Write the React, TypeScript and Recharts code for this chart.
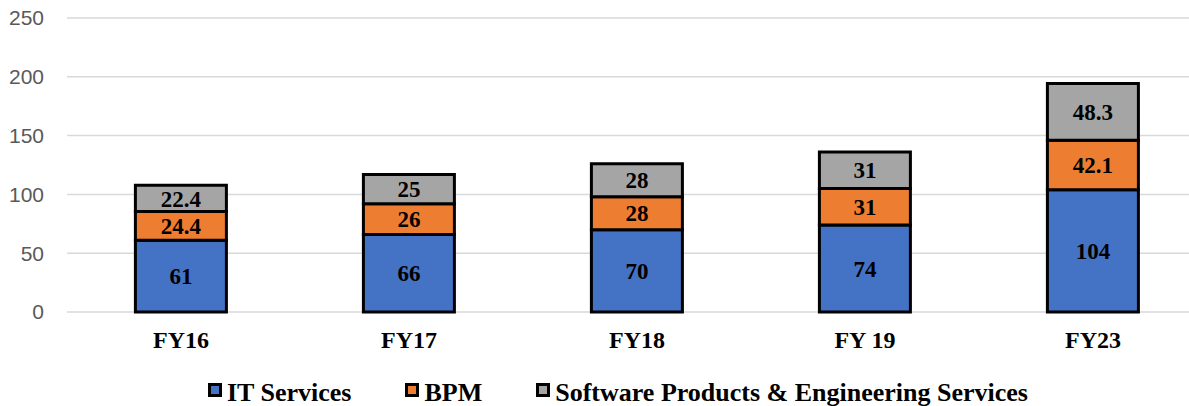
import { BarChart, Bar, XAxis, YAxis, CartesianGrid, Legend, LabelList } from "recharts";

const categories = ["FY16", "FY17", "FY18", "FY 19", "FY23"];
const itServices = [61, 66, 70, 74, 104];
const bpm = [24.4, 26, 28, 31, 42.1];
const softwareProducts = [22.4, 25, 28, 31, 48.3];
const yTicks = [0, 50, 100, 150, 200, 250];

const series = [
  { key: "it", name: "IT Services", color: "#4472C4" },
  { key: "bpm", name: "BPM", color: "#ED7D31" },
  { key: "sw", name: "Software Products & Engineering Services", color: "#A5A5A5" },
];

const data = categories.map((name, i) => ({
  name,
  it: itServices[i],
  bpm: bpm[i],
  sw: softwareProducts[i],
}));

const SERIF = "'Liberation Serif', 'Times New Roman', serif";

// x axis labels, bold serif below the plot
const CategoryTick = (props: any) => {
  const { x, y, payload } = props;
  return (
    <text x={x} y={y + 36} textAnchor="middle" fill="#000" fontFamily={SERIF} fontWeight={700} fontSize={24}>
      {payload.value}
    </text>
  );
};

const LegendContent = () => (
  <div
    style={{
      display: "flex",
      justifyContent: "center",
      height: 44,
      paddingTop: 18,
      paddingLeft: 29,
      boxSizing: "border-box",
      fontFamily: SERIF,
      fontWeight: 700,
      fontSize: 26,
      lineHeight: "26px",
      color: "#000",
    }}
  >
    {series.map((s, i) => (
      <div key={s.key} style={{ display: "flex", alignItems: "center", marginLeft: i === 0 ? 0 : 54, whiteSpace: "nowrap" }}>
        <span
          style={{
            width: 14,
            height: 14,
            boxSizing: "border-box",
            border: "3px solid #000",
            background: s.color,
            marginRight: 5,
            position: "relative",
            top: -3,
          }}
        />
        {s.name}
      </div>
    ))}
  </div>
);

export default function App() {
  return (
    <div style={{ position: "absolute", left: 0, top: 0, width: 1189, height: 406, overflow: "hidden", background: "#fff" }}>
      <BarChart width={1207} height={406} data={data} margin={{ top: 18, right: 0, left: 0, bottom: 0 }} barCategoryGap="30%">
        <CartesianGrid vertical={false} stroke="#d9d9d9" strokeWidth={1.5} />
        <XAxis
          dataKey="name"
          axisLine={false}
          tickLine={false}
          tickSize={0}
          tickMargin={0}
          height={50}
          interval={0}
          tick={<CategoryTick />}
        />
        <YAxis
          domain={[0, 250]}
          ticks={yTicks}
          width={67}
          axisLine={false}
          tickLine={false}
          tickSize={6}
          tickMargin={17}
          tick={{ fill: "#595959", fontSize: 21, fontFamily: "'Liberation Sans', Arial, sans-serif" }}
        />
        <Legend verticalAlign="bottom" content={<LegendContent />} />
        {series.map((s) => (
          <Bar key={s.key} dataKey={s.key} name={s.name} stackId="a" fill={s.color} stroke="#000" strokeWidth={3} isAnimationActive={false}>
            <LabelList dataKey={s.key} position="center" fill="#000" fontFamily={SERIF} fontWeight={700} fontSize={23} />
          </Bar>
        ))}
      </BarChart>
    </div>
  );
}
